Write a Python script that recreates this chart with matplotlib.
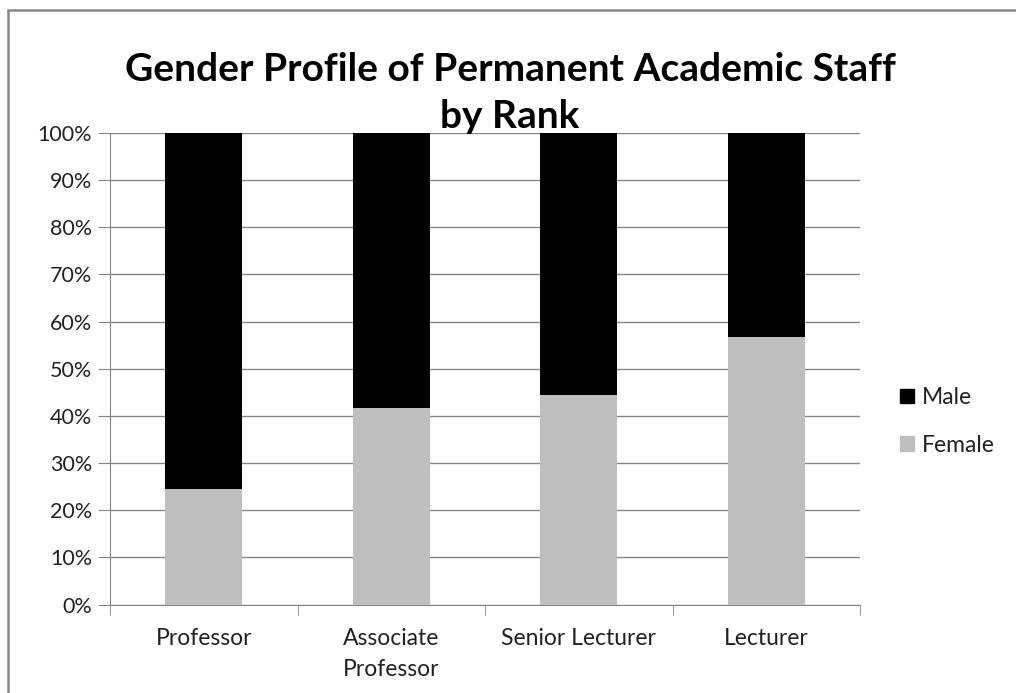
import matplotlib.pyplot as plt
from matplotlib.patches import Rectangle, Patch
from matplotlib.ticker import PercentFormatter

categories = ["Professor", "Associate\nProfessor", "Senior Lecturer", "Lecturer"]
female = [24.5, 41.6, 44.5, 56.8]
male = [100 - f for f in female]

plt.rcParams['font.family'] = ['Lato', 'DejaVu Sans']

fig = plt.figure(figsize=(10.16, 6.93), dpi=100)
ax = fig.add_axes([0.1083, 0.1277, 0.7382, 0.6803])

x = range(len(categories))
ax.bar(x, female, width=0.41, color="#bfbfbf", label="Female", zorder=3)
ax.bar(x, male, width=0.41, bottom=female, color="#000000", label="Male", zorder=3)

ax.set_xlim(-0.5, len(categories) - 0.5)
ax.set_ylim(0, 100)
ax.set_yticks(range(0, 101, 10))
ax.yaxis.set_major_formatter(PercentFormatter(decimals=0))
ax.grid(axis="y", color="#868686", linewidth=1, zorder=0)

ax.set_xticks(list(x))
ax.set_xticklabels(categories, fontsize=16.5, linespacing=1.6, color="#222222")
ax.set_xticks([i - 0.5 for i in range(len(categories) + 1)], minor=True)
ax.tick_params(axis="x", which="major", length=0, pad=17)
ax.tick_params(axis="x", which="minor", length=7, color="#868686", direction="out")
ax.tick_params(axis="y", length=9, color="#868686", labelsize=15.5, pad=4,
               labelcolor="#222222")

for s in ["top", "right"]:
    ax.spines[s].set_visible(False)
for s in ["left", "bottom"]:
    ax.spines[s].set_color("#868686")

fig.text(0.502, 0.866, "Gender Profile of Permanent Academic Staff\nby Rank",
         ha="center", va="center", fontsize=28, fontweight="bold", linespacing=1.4)

handles = [Patch(color="#000000", label="Male"), Patch(color="#bfbfbf", label="Female")]
fig.legend(handles=handles, loc="center left", bbox_to_anchor=(0.866, 0.392),
           frameon=False, fontsize=16.5, handlelength=0.6, handleheight=0.6,
           handletextpad=0.35, labelspacing=1.15, labelcolor="#222222")

fig.add_artist(Rectangle((8 / 1016, -0.1), 1.2, (693 - 10) / 693 + 0.1,
                         transform=fig.transFigure, fill=False,
                         edgecolor="#868686", linewidth=1.8))

fig.savefig("out.png", dpi=100)
